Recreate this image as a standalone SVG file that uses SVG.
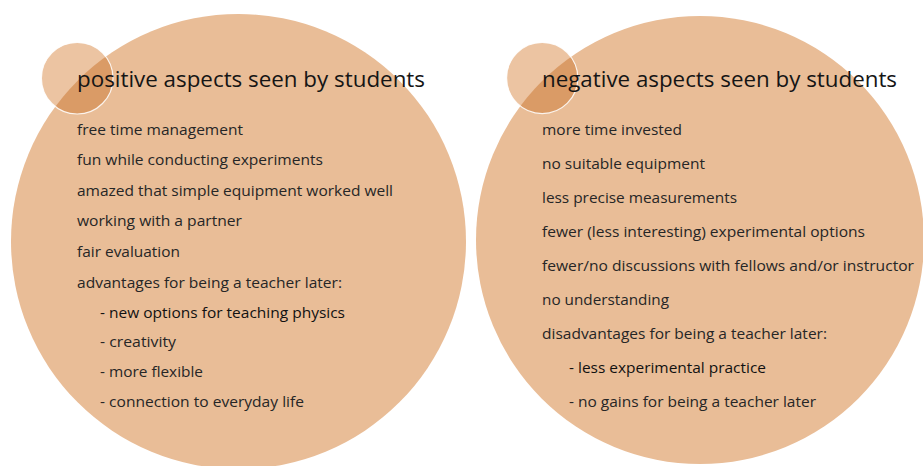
<svg xmlns="http://www.w3.org/2000/svg" width="923" height="466" viewBox="0 0 923 466">
<style>
.big{fill:#E9BD97}
.small{fill:#ECC4A2}
.ov{fill:#DA9B66}
.ring{fill:none;stroke:#FFFFFF;stroke-width:1.2;stroke-opacity:0.85}
text{font-family:"Open Sans",Lato,"Liberation Sans",sans-serif;fill:#262626}
.title{font-size:21.5px;fill:#151515}
.item{font-size:15.2px}
.dk{fill:#111111}
</style>
<defs>
<clipPath id="clipL"><circle cx="238.5" cy="241.5" r="227.5"/></clipPath>
<clipPath id="clipR"><circle cx="700" cy="240" r="224"/></clipPath>
</defs>
<rect width="923" height="466" fill="#FFFFFF"/>
<g id="positive">
<circle class="big" cx="238.5" cy="241.5" r="227.5"/>
<circle class="small" cx="77.2" cy="78.2" r="35.8"/>
<circle class="ov" cx="77.2" cy="78.2" r="35.8" clip-path="url(#clipL)"/>
<circle class="ring" cx="77.2" cy="78.2" r="35.8"/>
<text class="title" x="77" y="87" textLength="348" lengthAdjust="spacingAndGlyphs">positive aspects seen by students</text>
<text class="item" x="77" y="135" textLength="166" lengthAdjust="spacingAndGlyphs">free time management</text>
<text class="item" x="77" y="165" textLength="246" lengthAdjust="spacingAndGlyphs">fun while conducting experiments</text>
<text class="item" x="77" y="196" textLength="316" lengthAdjust="spacingAndGlyphs">amazed that simple equipment worked well</text>
<text class="item" x="77" y="226" textLength="165" lengthAdjust="spacingAndGlyphs">working with a partner</text>
<text class="item" x="77" y="257" textLength="103" lengthAdjust="spacingAndGlyphs">fair evaluation</text>
<text class="item" x="77" y="288" textLength="265" lengthAdjust="spacingAndGlyphs">advantages for being a teacher later:</text>
<text class="item dk" x="100" y="318" textLength="245" lengthAdjust="spacingAndGlyphs">- new options for teaching physics</text>
<text class="item" x="100" y="347" textLength="76" lengthAdjust="spacingAndGlyphs">- creativity</text>
<text class="item" x="100" y="377" textLength="103" lengthAdjust="spacingAndGlyphs">- more flexible</text>
<text class="item" x="100" y="407" textLength="204" lengthAdjust="spacingAndGlyphs">- connection to everyday life</text>
</g>
<g id="negative">
<circle class="big" cx="700" cy="240" r="224"/>
<circle class="small" cx="542.2" cy="78" r="35.6"/>
<circle class="ov" cx="542.2" cy="78" r="35.6" clip-path="url(#clipR)"/>
<circle class="ring" cx="542.2" cy="78" r="35.6"/>
<text class="title" x="542" y="87" textLength="355" lengthAdjust="spacingAndGlyphs">negative aspects seen by students</text>
<text class="item" x="542" y="135" textLength="140" lengthAdjust="spacingAndGlyphs">more time invested</text>
<text class="item" x="542" y="169" textLength="163" lengthAdjust="spacingAndGlyphs">no suitable equipment</text>
<text class="item" x="542" y="203" textLength="195" lengthAdjust="spacingAndGlyphs">less precise measurements</text>
<text class="item" x="542" y="237" textLength="323" lengthAdjust="spacingAndGlyphs">fewer (less interesting) experimental options</text>
<text class="item" x="542" y="271" textLength="372" lengthAdjust="spacingAndGlyphs">fewer/no discussions with fellows and/or instructor</text>
<text class="item" x="542" y="305" textLength="127" lengthAdjust="spacingAndGlyphs">no understanding</text>
<text class="item" x="542" y="339" textLength="285" lengthAdjust="spacingAndGlyphs">disadvantages for being a teacher later:</text>
<text class="item dk" x="569" y="373" textLength="197" lengthAdjust="spacingAndGlyphs">- less experimental practice</text>
<text class="item" x="569" y="407" textLength="247" lengthAdjust="spacingAndGlyphs">- no gains for being a teacher later</text>
</g>
</svg>
